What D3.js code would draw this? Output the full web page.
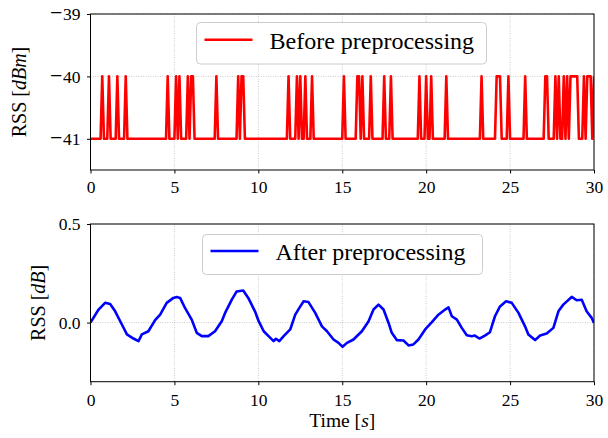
<!DOCTYPE html>
<html><head><meta charset="utf-8">
<script src="https://cdn.jsdelivr.net/npm/d3@7"></script>
<style>
body{margin:0;background:#fff;}
svg{display:block;font-family:"Liberation Serif","Times New Roman",serif;}
</style></head>
<body>
<svg id="chart" width="608" height="438"></svg>
<script>
// ---- data ----
const xTicks = [0, 5, 10, 15, 20, 25, 30];
const yTicksTop = [-41, -40, -39];
const yTicksBottom = [0.0, 0.5];
const sampleStep = 0.1; // seconds between samples of the raw signal
const rssBefore = [
-41,-41,-41,-41,-41,-41,-41,-40,-41,-41,
-41,-40,-41,-41,-41,-41,-40,-41,-41,-41,
-41,-40,-41,-41,-41,-41,-41,-41,-41,-41,
-41,-41,-41,-41,-41,-41,-41,-41,-41,-41,
-41,-41,-41,-41,-41,-41,-40,-41,-41,-41,
-41,-40,-41,-40,-41,-41,-41,-41,-40,-41,
-40,-40,-41,-41,-41,-41,-41,-41,-41,-41,
-41,-41,-41,-41,-41,-40,-41,-41,-41,-41,
-41,-41,-41,-41,-41,-41,-41,-41,-40,-41,
-40,-40,-41,-41,-41,-41,-41,-41,-41,-41,
-41,-41,-41,-41,-41,-41,-41,-41,-41,-41,
-41,-41,-41,-41,-41,-41,-41,-41,-40,-41,
-41,-41,-41,-40,-41,-40,-41,-41,-40,-41,
-41,-41,-40,-41,-41,-41,-41,-41,-41,-41,
-41,-41,-41,-41,-41,-41,-41,-41,-41,-41,
-41,-40,-41,-41,-41,-41,-41,-41,-41,-40,
-40,-41,-40,-41,-41,-41,-41,-40,-41,-41,
-41,-41,-41,-41,-41,-40,-41,-41,-41,-40,
-41,-41,-41,-41,-41,-41,-41,-41,-41,-41,
-41,-41,-41,-41,-41,-41,-40,-41,-41,-41,
-40,-41,-41,-40,-41,-41,-41,-41,-41,-41,
-41,-41,-40,-41,-41,-41,-41,-41,-41,-41,
-41,-41,-41,-41,-41,-41,-41,-41,-41,-41,
-41,-41,-41,-40,-41,-41,-41,-41,-41,-41,
-41,-41,-40,-40,-40,-41,-41,-41,-41,-40,
-41,-41,-41,-41,-41,-41,-41,-41,-41,-40,
-41,-41,-41,-41,-41,-41,-41,-41,-41,-41,
-41,-40,-40,-41,-41,-41,-41,-40,-41,-40,
-41,-41,-40,-41,-40,-41,-40,-40,-40,-40,
-40,-41,-41,-41,-40,-41,-40,-40,-40,-41,
-40
];
const timeAfter = [0,0.48,0.87,1.17,1.47,1.87,2.17,2.56,2.86,3.06,3.45,3.85,4.15,4.54,4.94,5.14,5.34,5.63,6.03,6.33,6.63,7.02,7.42,7.82,8.02,8.42,8.71,9.1,9.4,9.8,10.02,10.32,10.61,10.91,11.05,11.25,11.51,11.9,12.2,12.5,12.7,12.99,13.39,13.79,14.09,14.48,14.78,15.02,15.28,15.67,16.17,16.57,16.86,17.16,17.46,17.76,17.95,18.25,18.65,18.95,19.24,19.54,19.94,20.34,20.73,21.13,21.33,21.53,21.83,22.12,22.42,22.72,22.9,23.17,23.5,23.8,24.1,24.4,24.76,25.1,25.5,25.89,26.09,26.49,26.79,27.18,27.58,27.88,28.17,28.67,28.97,29.27,29.56,29.86,30];
const rssAfter = [0.0,0.066,0.10,0.094,0.057,-0.01,-0.06,-0.081,-0.094,-0.06,-0.044,0.012,0.04,0.10,0.125,0.13,0.125,0.074,0.015,-0.052,-0.069,-0.069,-0.044,0.007,0.049,0.116,0.158,0.163,0.125,0.057,0.007,-0.044,-0.069,-0.094,-0.082,-0.094,-0.069,-0.035,0.04,0.082,0.108,0.104,0.049,-0.019,-0.044,-0.086,-0.103,-0.123,-0.103,-0.086,-0.044,0.007,0.066,0.091,0.066,-0.002,-0.052,-0.089,-0.091,-0.116,-0.111,-0.086,-0.035,0.002,0.04,0.066,0.077,0.032,0.015,-0.027,-0.064,-0.069,-0.066,-0.081,-0.066,-0.049,0.032,0.082,0.108,0.1,0.049,-0.019,-0.06,-0.089,-0.066,-0.056,-0.027,0.057,0.091,0.13,0.113,0.116,0.057,0.024,-0.002];

// ---- drawing ----
const svg = d3.select("#chart");
const left = 90.5, right = 594;
const x = d3.scaleLinear().domain([0, 30]).range([left, right]);

function panel(cfg){
  const g = svg.append("g");
  const y = d3.scaleLinear().domain(cfg.yDomain).range([cfg.bottom, cfg.top]);
  const clipId = "clip" + cfg.id;
  svg.append("clipPath").attr("id", clipId).append("rect")
    .attr("x", left).attr("y", cfg.top).attr("width", right-left).attr("height", cfg.bottom-cfg.top);
  // grid
  g.selectAll(".gx").data(xTicks).join("line")
    .attr("x1", d=>x(d)).attr("x2", d=>x(d)).attr("y1", cfg.top).attr("y2", cfg.bottom)
    .attr("stroke", "#b0b0b0").attr("stroke-width", 0.8).attr("stroke-dasharray", "0.8,1.6");
  g.selectAll(".gy").data(cfg.yTicks).join("line")
    .attr("x1", left).attr("x2", right).attr("y1", d=>y(d)).attr("y2", d=>y(d))
    .attr("stroke", "#b0b0b0").attr("stroke-width", 0.8).attr("stroke-dasharray", "0.8,1.6");
  // line
  const line = d3.line().x(d=>x(d[0])).y(d=>y(d[1]));
  g.append("path").datum(cfg.data).attr("d", line)
    .attr("fill", "none").attr("stroke", cfg.color).attr("stroke-width", 2.6)
    .attr("stroke-linejoin", "round").attr("clip-path", `url(#${clipId})`);
  // frame
  g.append("rect").attr("x", left).attr("y", cfg.top).attr("width", right-left).attr("height", cfg.bottom-cfg.top)
    .attr("fill", "none").attr("stroke", "#000").attr("stroke-width", 1);
  // axes
  const ax = g.append("g").attr("transform", `translate(0,${cfg.bottom})`)
    .call(d3.axisBottom(x).tickValues(xTicks).tickSize(3.5).tickPadding(cfg.xpad).tickFormat(d3.format("d")));
  const ay = g.append("g").attr("transform", `translate(${left},0)`)
    .call(d3.axisLeft(y).tickValues(cfg.yTicks).tickSize(3.5).tickPadding(6.5).tickFormat(cfg.fmt));
  [ax, ay].forEach(a=>{
    a.select(".domain").remove();
    a.selectAll("line").attr("stroke", "#000").attr("stroke-width", 1);
    a.selectAll("text").attr("font-size", 17.5).attr("font-family", "Liberation Serif").attr("fill", "#000");
  });
  // wider math-style minus sign on negative tick labels
  ay.selectAll("text").each(function(){
    const t = d3.select(this), s = t.text();
    if (s.startsWith("\u2212")) {
      t.text(null);
      t.append("tspan").attr("font-size", 22).text("\u2212");
      t.append("tspan").attr("dx", 0.5).text(s.slice(1));
    }
  });
  // y label
  const yl = svg.append("text").attr("transform", `translate(${cfg.ylx},${(cfg.top+cfg.bottom)/2}) rotate(-90)`)
    .attr("text-anchor", "middle").attr("font-size", 20);
  yl.append("tspan").text("RSS [");
  yl.append("tspan").attr("font-style", "italic").text(cfg.unit);
  yl.append("tspan").text("]");
  // legend
  const lg = svg.append("g");
  lg.append("rect").attr("x", cfg.leg[0]).attr("y", cfg.leg[1]).attr("width", cfg.leg[2]).attr("height", cfg.leg[3])
    .attr("rx", 4).attr("fill", "#fff").attr("fill-opacity", 0.9).attr("stroke", "#cccccc").attr("stroke-width", 1);
  lg.append("line").attr("x1", cfg.leg[0]+8).attr("x2", cfg.leg[0]+56)
    .attr("y1", cfg.leg[1]+cfg.leg[3]/2-3.5).attr("y2", cfg.leg[1]+cfg.leg[3]/2-3.5)
    .attr("stroke", cfg.color).attr("stroke-width", 2.6);
  lg.append("text").attr("x", cfg.leg[0]+73).attr("y", cfg.leg[1]+cfg.leg[3]/2+5.5)
    .attr("font-size", 24).text(cfg.label);
}

panel({id:"a", top:14, bottom:170, yDomain:[-41.5, -39], yTicks:yTicksTop,
  fmt: d=>d3.format("d")(d).replace("-", "\u2212"), xpad:7,
  data: rssBefore.map((v,i)=>[i*sampleStep, v]), color:"#ff0000", unit:"dBm", ylx:26,
  leg:[196.5, 22.5, 290, 41.5], label:"Before preprocessing"});

panel({id:"b", top:224, bottom:381.7, yDomain:[-0.3, 0.5], yTicks:yTicksBottom,
  fmt: d3.format(".1f"), xpad:8.5,
  data: timeAfter.map((t,i)=>[t, rssAfter[i]]), color:"#0000ff", unit:"dB", ylx:45,
  leg:[202.5, 234.5, 280, 40], label:"After preprocessing"});

const xl = svg.append("text").attr("x", (left+right)/2).attr("y", 427).attr("text-anchor", "middle").attr("font-size", 19.5);
xl.append("tspan").text("Time [");
xl.append("tspan").attr("font-style", "italic").text("s");
xl.append("tspan").text("]");
</script>
</body></html>
